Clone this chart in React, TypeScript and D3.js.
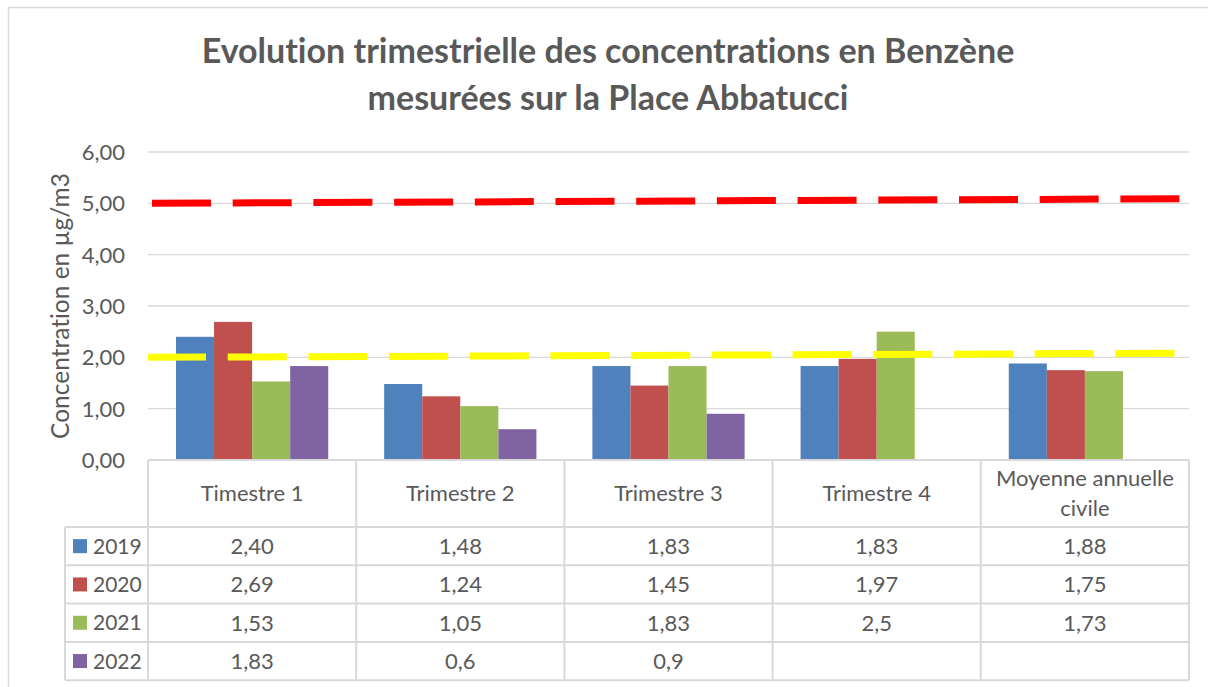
import React, { useEffect, useRef } from 'react';
import * as d3 from 'd3';

// categories shown in the table header (\n = line break)
const categories = ['Timestre 1', 'Trimestre 2', 'Trimestre 3', 'Trimestre 4', 'Moyenne annuelle\ncivile'];
const years = ['2019', '2020', '2021', '2022'];
const colors = ['#4F81BD', '#C0504D', '#9BBB59', '#8064A2'];

// values as written in the data table
const values2019 = ['2,40', '1,48', '1,83', '1,83', '1,88'];
const values2020 = ['2,69', '1,24', '1,45', '1,97', '1,75'];
const values2021 = ['1,53', '1,05', '1,83', '2,5', '1,73'];
const values2022 = ['1,83', '0,6', '0,9', '', ''];

// reference lines (value at left end, value at right end)
const limitRed = [5.0, 5.09];
const limitYellow = [2.0, 2.08];

const yTicks = [0, 1, 2, 3, 4, 5, 6];

const TEXT = '#595959';
const LINE = '#D9D9D9';
const FONT = 'Lato, "Open Sans", sans-serif';

const parse = (s: string) => (s === '' ? null : parseFloat(s.replace(',', '.')));

const App: React.FC = () => {
  const ref = useRef<SVGSVGElement | null>(null);

  useEffect(() => {
    const width = 1208, height = 687;
    const svg = d3.select(ref.current).attr('width', width).attr('height', height)
      .style('font-variant-ligatures', 'none');
    svg.selectAll('*').remove();

    const series = [values2019, values2020, values2021, values2022];

    const left = 148, right = 1189, top = 152, bottom = 460;
    const rowH = 38.3, headerH = 67, legendLeft = 65;

    // outer chart frame
    svg.append('rect')
      .attr('x', 8.5).attr('y', 7.5)
      .attr('width', width + 20).attr('height', height + 20)
      .attr('fill', '#fff').attr('stroke', LINE).attr('stroke-width', 1.5);

    // title
    const title = svg.append('text')
      .attr('text-anchor', 'middle')
      .style('font-family', FONT).style('font-weight', 'bold')
      .style('font-size', '34px').attr('fill', TEXT);
    title.append('tspan').attr('x', 608).attr('y', 63).text('Evolution trimestrielle des concentrations en Benzène');
    title.append('tspan').attr('x', 608).attr('y', 110).text('mesurées sur la Place Abbatucci');

    const y = d3.scaleLinear().domain([0, 6]).range([bottom, top]);
    const x = d3.scaleBand<string>().domain(categories).range([left, right]).padding(0);
    const barW = x.bandwidth() / (4 + 1.47);
    const xs = d3.scaleBand<string>().domain(years)
      .range([barW * 1.47 / 2, barW * 1.47 / 2 + 4 * barW]).padding(0);

    // gridlines
    svg.append('g').selectAll('line').data(yTicks.filter(d => d > 0)).join('line')
      .attr('x1', left).attr('x2', right)
      .attr('y1', d => y(d)).attr('y2', d => y(d))
      .attr('stroke', LINE).attr('stroke-width', 1.3);

    // tick labels
    svg.append('g').selectAll('text').data(yTicks).join('text')
      .attr('x', 125).attr('y', d => y(d)).attr('dy', '0.36em')
      .attr('text-anchor', 'end')
      .style('font-family', FONT).style('font-size', '22px').attr('fill', TEXT)
      .text(d => d3.format('.2f')(d).replace('.', ','));

    // y axis title
    svg.append('text')
      .attr('transform', `translate(69, ${(top + bottom) / 2}) rotate(-90)`)
      .attr('text-anchor', 'middle')
      .style('font-family', FONT).style('font-size', '24.5px').attr('fill', TEXT)
      .text('Concentration en µg/m3');

    // bars
    series.forEach((vals, si) => {
      svg.append('g').selectAll('rect')
        .data(vals.map((v, i) => ({ cat: categories[i], v: parse(v) })).filter(d => d.v !== null))
        .join('rect')
        .attr('x', d => (x(d.cat) as number) + (xs(years[si]) as number))
        .attr('width', xs.bandwidth())
        .attr('y', d => y(d.v as number))
        .attr('height', d => bottom - y(d.v as number))
        .attr('fill', colors[si]);
    });

    // dashed reference lines
    const drawLimit = (vals: number[], color: string, offset: number) => {
      svg.append('line')
        .attr('x1', left).attr('x2', right)
        .attr('y1', y(vals[0])).attr('y2', y(vals[1]))
        .attr('stroke', color).attr('stroke-width', 7)
        .attr('stroke-dasharray', '59,21.7')
        .attr('stroke-dashoffset', offset);
    };
    drawLimit(limitRed, '#FF0000', -4);
    drawLimit(limitYellow, '#FFFF00', 1);

    // data table
    const tableBottom = bottom + headerH + rowH * years.length;
    const tg = svg.append('g').attr('stroke', LINE).attr('stroke-width', 2).attr('fill', 'none');
    // horizontal lines
    tg.append('line').attr('x1', left).attr('x2', right).attr('y1', bottom).attr('y2', bottom);
    years.forEach((_, i) => {
      const yy = bottom + headerH + rowH * i;
      tg.append('line').attr('x1', legendLeft).attr('x2', right).attr('y1', yy).attr('y2', yy);
    });
    tg.append('line').attr('x1', legendLeft).attr('x2', right).attr('y1', tableBottom).attr('y2', tableBottom);
    // vertical lines
    categories.forEach(c => {
      tg.append('line').attr('x1', x(c) as number).attr('x2', x(c) as number)
        .attr('y1', bottom).attr('y2', tableBottom);
    });
    tg.append('line').attr('x1', right).attr('x2', right).attr('y1', bottom).attr('y2', tableBottom);
    tg.append('line').attr('x1', legendLeft).attr('x2', legendLeft)
      .attr('y1', bottom + headerH).attr('y2', tableBottom);

    // header labels
    categories.forEach(c => {
      const lines = c.split('\n');
      const cx = (x(c) as number) + x.bandwidth() / 2;
      const cy = bottom + headerH / 2;
      const t = svg.append('text').attr('text-anchor', 'middle')
        .style('font-family', FONT).style('font-size', '22px').attr('fill', TEXT);
      lines.forEach((l, li) => {
        t.append('tspan').attr('x', cx)
          .attr('y', cy + (li - (lines.length - 1) / 2) * 30)
          .attr('dy', '0.36em').text(l);
      });
    });

    // rows
    series.forEach((vals, si) => {
      const cy = bottom + headerH + rowH * si + rowH / 2;
      svg.append('rect')
        .attr('x', 73).attr('y', cy - 7).attr('width', 14).attr('height', 14)
        .attr('fill', colors[si]);
      svg.append('text')
        .attr('x', 93).attr('y', cy).attr('dy', '0.36em')
        .style('font-family', FONT).style('font-size', '21px').attr('fill', TEXT)
        .text(years[si]);
      vals.forEach((v, i) => {
        svg.append('text')
          .attr('x', (x(categories[i]) as number) + x.bandwidth() / 2)
          .attr('y', cy).attr('dy', '0.36em')
          .attr('text-anchor', 'middle')
          .style('font-family', FONT).style('font-size', '22px').attr('fill', TEXT)
          .text(v);
      });
    });
  }, []);

  return (
    <div style={{ position: 'absolute', left: 0, top: 0, width: 1208, height: 687, overflow: 'hidden' }}>
      <svg ref={ref} style={{ display: 'block' }}></svg>
    </div>
  );
};

export default App;
